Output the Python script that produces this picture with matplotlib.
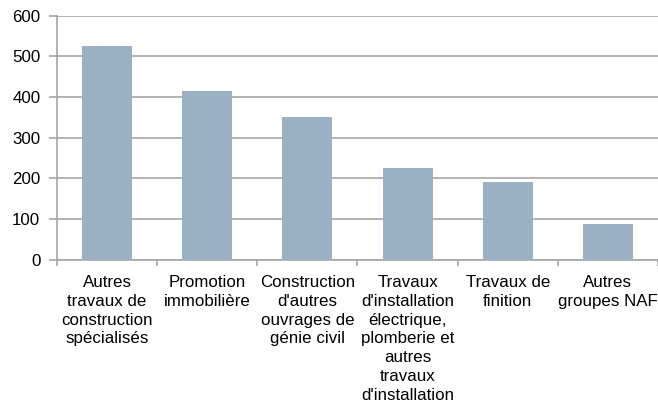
import matplotlib
matplotlib.use("Agg")
import matplotlib.pyplot as plt
import numpy as np

categories = [
    "Autres\ntravaux de\nconstruction\nspécialisés",
    "Promotion\nimmobilière",
    "Construction\nd'autres\nouvrages de\ngénie civil",
    "Travaux\nd'installation\nélectrique,\nplomberie et\nautres\ntravaux\nd'installation",
    "Travaux de\nfinition",
    "Autres\ngroupes NAF",
]
values = [525, 414, 351, 226, 190, 88]
yticks = [0, 100, 200, 300, 400, 500, 600]

plt.rcParams['font.family'] = ['Liberation Sans', 'DejaVu Sans']
fig = plt.figure(figsize=(6.58, 4.05), dpi=100)
ax = fig.add_axes([0.0866, 0.359, 0.9134, 0.602])

x = np.arange(len(categories))
ax.bar(x, values, width=0.5, color="#9BB0C3", zorder=3)
ax.set_xlim(-0.5, len(categories) - 0.5)
ax.set_ylim(0, 600)
ax.set_yticks(yticks)
ax.set_yticklabels([str(v) for v in yticks], fontsize=12.2)
ax.yaxis.grid(True, color="#A6A6A6", linewidth=1.2, zorder=0)
ax.set_xticks(x)
ax.set_xticklabels(categories, fontsize=12.2, va="top", linespacing=1.32)
ax.set_xticks(np.arange(len(categories) + 1) - 0.5, minor=True)
ax.tick_params(axis="x", which="major", length=0, pad=11)
ax.tick_params(axis="x", which="minor", length=4, color="#A6A6A6", width=1.2)
ax.tick_params(axis="y", length=6, color="#A6A6A6", width=1.2, pad=6)
for s in ["top", "right"]:
    ax.spines[s].set_visible(False)
for s in ["left", "bottom"]:
    ax.spines[s].set_color("#A6A6A6")
    ax.spines[s].set_linewidth(1.2)

fig.savefig("out.png", dpi=100)
